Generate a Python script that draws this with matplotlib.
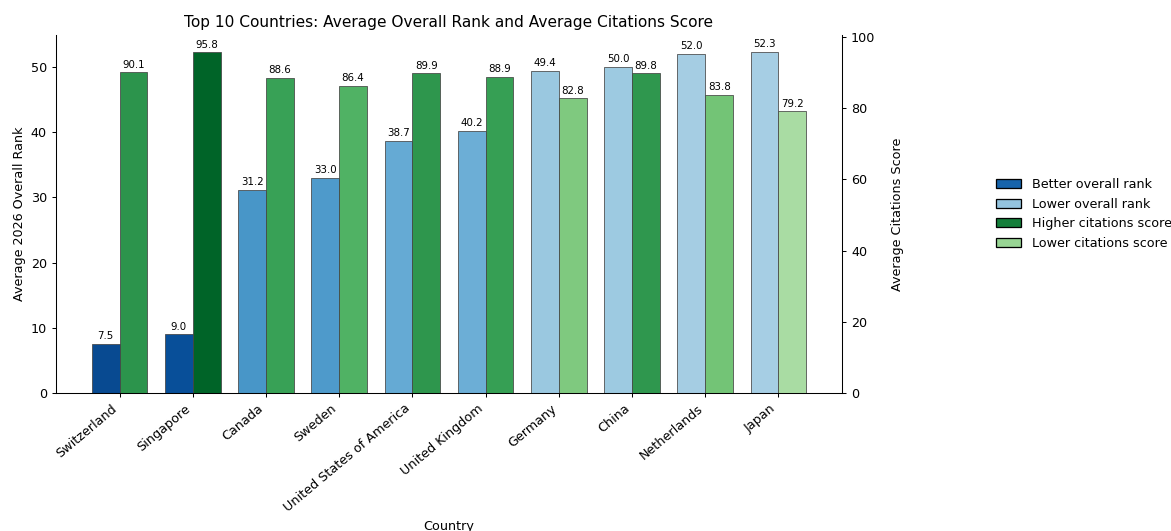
import numpy as np
import matplotlib
matplotlib.use("Agg")
import matplotlib.pyplot as plt
import matplotlib.patches as patches
from matplotlib.colors import Normalize

# Data
countries = ['Switzerland', 'Singapore', 'Canada', 'Sweden', 'United States of America',
             'United Kingdom', 'Germany', 'China', 'Netherlands', 'Japan']
avg_rank = [7.5, 9.0, 31.2, 33.0, 38.7, 40.2, 49.4, 50.0, 52.0, 52.3]
avg_citations = [90.1, 95.8, 88.6, 86.4, 89.9, 88.9, 82.8, 89.8, 83.8, 79.2]

width = 0.38
x = np.arange(len(countries))

# Colour by value: lower rank -> darker blue, higher citations -> darker green
rank_norm = Normalize(min(avg_rank), max(avg_rank))
cit_norm = Normalize(min(avg_citations), max(avg_citations))
rank_colors = [plt.cm.Blues(0.35 + 0.55 * (1 - rank_norm(v))) for v in avg_rank]
cit_colors = [plt.cm.Greens(0.35 + 0.55 * cit_norm(v)) for v in avg_citations]

DPI = 92
fig, ax1 = plt.subplots(figsize=(1171/DPI, 531/DPI), dpi=DPI)
fig.subplots_adjust(left=56/1171, right=842/1171, top=1-35/531, bottom=1-393/531)
ax2 = ax1.twinx()

bars1 = ax1.bar(x - width/2, avg_rank, width, color=rank_colors, edgecolor='#444444', linewidth=0.6)
bars2 = ax2.bar(x + width/2, avg_citations, width, color=cit_colors, edgecolor='#444444', linewidth=0.6)

for b, v in zip(bars1, avg_rank):
    ax1.text(b.get_x() + b.get_width()/2, v + 0.4, f'{v:.1f}', ha='center', va='bottom', fontsize=8)
for b, v in zip(bars2, avg_citations):
    ax2.text(b.get_x() + b.get_width()/2, v + 0.7, f'{v:.1f}', ha='center', va='bottom', fontsize=8)

ax1.set_ylim(0, max(avg_rank) * 1.05)
ax2.set_ylim(0, max(avg_citations) * 1.05)

ax1.set_xticks(x)
ax1.set_xticklabels(countries, rotation=40, ha='right')
ax1.set_xlabel('Country')
ax1.set_ylabel('Average 2026 Overall Rank')
ax2.set_ylabel('Average Citations Score', labelpad=12)
ax1.set_title('Top 10 Countries: Average Overall Rank and Average Citations Score')

ax1.spines['top'].set_visible(False)
ax2.spines['top'].set_visible(False)

handles = [
    patches.Patch(facecolor=plt.cm.Blues(0.8), edgecolor='black', label='Better overall rank'),
    patches.Patch(facecolor=plt.cm.Blues(0.4), edgecolor='black', label='Lower overall rank'),
    patches.Patch(facecolor=plt.cm.Greens(0.8), edgecolor='black', label='Higher citations score'),
    patches.Patch(facecolor=plt.cm.Greens(0.4), edgecolor='black', label='Lower citations score'),
]
fig.legend(handles=handles, loc='center left', bbox_to_anchor=(0.8405, 0.597), frameon=False)

plt.savefig('out.png', dpi=DPI)
plt.close()
